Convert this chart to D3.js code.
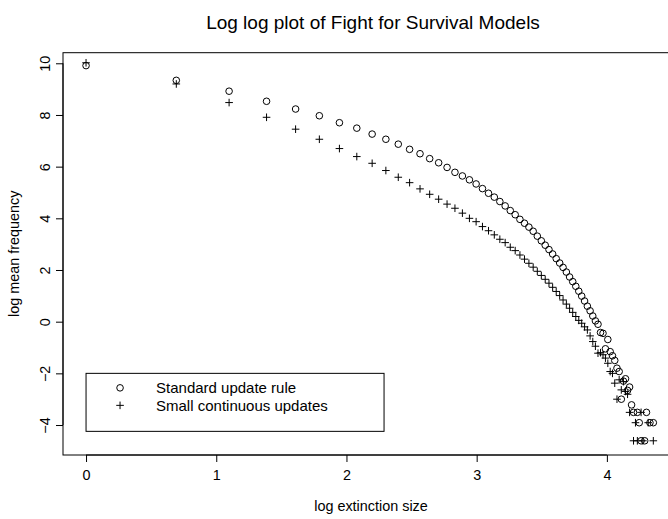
<!DOCTYPE html>
<html>
<head>
<meta charset="utf-8">
<script src="https://cdn.jsdelivr.net/npm/d3@7"></script>
<style>
  html, body { margin: 0; padding: 0; background: #fff; }
  svg { display: block; }
  text { font-family: "Liberation Sans", Arial, Helvetica, sans-serif; fill: #000; }
</style>
</head>
<body>
<div id="chart"></div>
<script>
// Extinction sizes and log mean frequencies, standard update rule
const standardSizes = [1,2,3,4,5,6,7,8,9,10,11,12,13,14,15,16,17,18,19,20,
  21,22,23,24,25,26,27,28,29,30,31,32,33,34,35,36,37,38,39,40,
  41,42,43,44,45,46,47,48,49,50,51,52,53,54,55,56,57,58,59,60,
  61,62,63,64,65,66,67,69,70,71,73,74,76,78];
const standardLogFreq = [9.91,9.34,8.92,8.53,8.23,7.97,7.70,7.49,7.26,7.06,
  6.87,6.67,6.50,6.31,6.15,5.97,5.78,5.64,5.49,5.33,
  5.15,4.97,4.82,4.65,4.48,4.30,4.14,3.96,3.81,3.66,
  3.50,3.31,3.13,2.96,2.79,2.62,2.44,2.27,2.10,1.92,
  1.73,1.55,1.37,1.18,0.99,0.80,0.60,0.42,0.22,0.03,
  -0.10,-0.42,-0.45,-1.05,-0.69,-1.16,-1.32,-1.50,-1.80,-1.93,
  -3.00,-2.30,-2.21,-2.66,-2.53,-3.22,-3.51,-3.51,-3.91,-4.61,-4.61,-3.51,-3.91,-3.91];

// Extinction sizes and log mean frequencies, small continuous updates
const continuousSizes = [1,2,3,4,5,6,7,8,9,10,11,12,13,14,15,16,17,18,19,20,
  21,22,23,24,25,26,27,28,29,30,31,32,33,34,35,36,37,38,39,40,
  41,42,43,44,45,46,47,48,49,50,51,52,53,54,55,56,57,58,59,60,
  61,62,63,64,65,67,68,69,71,72,75,78];
const continuousLogFreq = [10.02,9.20,8.48,7.91,7.45,7.06,6.70,6.39,6.13,5.85,
  5.59,5.38,5.14,4.93,4.74,4.55,4.39,4.20,4.00,3.87,
  3.68,3.52,3.36,3.19,3.06,2.88,2.75,2.58,2.42,2.26,
  2.11,1.95,1.79,1.64,1.49,1.33,1.17,1.01,0.84,0.68,
  0.52,0.36,0.20,0.05,-0.06,-0.20,-0.32,-0.55,-0.77,-0.95,
  -1.22,-1.20,-1.28,-1.41,-1.61,-1.93,-2.00,-2.38,-3.00,-2.25,
  -2.64,-2.32,-2.70,-2.81,-3.51,-4.61,-3.91,-4.61,-3.51,-4.61,-3.91,-4.61];

const xTicks = [0, 1, 2, 3, 4];
const yTicks = [-4, -2, 0, 2, 4, 6, 8, 10];
const legendLabels = ["Standard update rule", "Small continuous updates"];

const W = 668, H = 519;
const box = { left: 63, top: 52.7, right: 685, bottom: 455 };

const svg = d3.select("#chart").append("svg")
  .attr("width", W).attr("height", H);

const x = d3.scaleLinear().domain([-0.177, 4.6]).range([box.left, box.right]);
const y = d3.scaleLinear().domain([-5.16, 10.41]).range([box.bottom, box.top]);

const labelSize = 14.4;
const legendSize = 15;

// Title
svg.append("text")
  .attr("x", (box.left + box.right) / 2 - 1)
  .attr("y", 29)
  .attr("text-anchor", "middle")
  .style("font-size", "19px")
  .text("Log log plot of Fight for Survival Models");

// Bottom axis
const xAxis = d3.axisBottom(x).tickValues(xTicks).tickFormat(d3.format("d"))
  .tickSize(7).tickPadding(8);
const gx = svg.append("g").attr("transform", `translate(0,${box.bottom})`).call(xAxis);
gx.select(".domain").attr("d", `M${x(0)},0H${x(4)}`).attr("stroke", "#000");
gx.selectAll(".tick line").attr("stroke", "#000");
gx.selectAll(".tick text").style("font-size", labelSize + "px")
  .attr("font-family", null).attr("fill", "#000");

// Left axis with labels running bottom to top
const yAxis = d3.axisLeft(y).tickValues(yTicks).tickFormat(d3.format("d"))
  .tickSize(7).tickPadding(0);
const gy = svg.append("g").attr("transform", `translate(${box.left},0)`).call(yAxis);
gy.select(".domain").attr("d", `M0,${y(-4)}V${y(10)}`).attr("stroke", "#000");
gy.selectAll(".tick line").attr("stroke", "#000");
gy.selectAll(".tick text")
  .attr("x", null)
  .attr("y", 0)
  .attr("dy", "0.35em")
  .attr("text-anchor", "middle")
  .attr("transform", "translate(-18,0) rotate(-90)")
  .style("font-size", labelSize + "px")
  .attr("fill", "#000");

// Plot frame
svg.append("rect")
  .attr("x", box.left).attr("y", box.top)
  .attr("width", box.right - box.left).attr("height", box.bottom - box.top)
  .attr("fill", "none").attr("stroke", "#000").attr("stroke-width", 1);

// Axis titles
svg.append("text")
  .attr("x", (box.left + box.right) / 2 - 3)
  .attr("y", 511)
  .attr("text-anchor", "middle")
  .style("font-size", labelSize + "px")
  .text("log extinction size");

svg.append("text")
  .attr("transform", `translate(19,${(box.top + box.bottom) / 2}) rotate(-90)`)
  .attr("text-anchor", "middle")
  .style("font-size", labelSize + "px")
  .text("log mean frequency");

// Points
const standard = standardSizes.map((s, i) => ({ s, v: standardLogFreq[i] }));
const continuous = continuousSizes.map((s, i) => ({ s, v: continuousLogFreq[i] }));

const r = 3.3, p = 3.8;

svg.append("g").selectAll("circle").data(standard).join("circle")
  .attr("cx", d => x(Math.log(d.s)))
  .attr("cy", d => y(d.v))
  .attr("r", r)
  .attr("fill", "none").attr("stroke", "#000").attr("stroke-width", 1);

svg.append("g").selectAll("path").data(continuous).join("path")
  .attr("d", d => {
    const cx = x(Math.log(d.s)), cy = y(d.v);
    return `M${cx - p},${cy}H${cx + p}M${cx},${cy - p}V${cy + p}`;
  })
  .attr("fill", "none").attr("stroke", "#000").attr("stroke-width", 1);

// Legend anchored at (0, -2) in data space
const lg = svg.append("g");
const lx = x(0), ly = y(-2);
lg.append("rect")
  .attr("x", lx).attr("y", ly)
  .attr("width", 298).attr("height", 58)
  .attr("fill", "none").attr("stroke", "#000").attr("stroke-width", 1);
const rowY = [ly + 14.5, ly + 32];
lg.append("circle").attr("cx", lx + 34).attr("cy", rowY[0]).attr("r", r)
  .attr("fill", "none").attr("stroke", "#000");
lg.append("path")
  .attr("d", `M${lx + 34 - p},${rowY[1]}H${lx + 34 + p}M${lx + 34},${rowY[1] - p}V${rowY[1] + p}`)
  .attr("stroke", "#000").attr("fill", "none");
lg.selectAll("text.leg").data(legendLabels).join("text")
  .attr("class", "leg")
  .attr("x", lx + 70)
  .attr("y", (d, i) => rowY[i])
  .attr("dy", "0.35em")
  .style("font-size", legendSize + "px")
  .text(d => d);
</script>
</body>
</html>
